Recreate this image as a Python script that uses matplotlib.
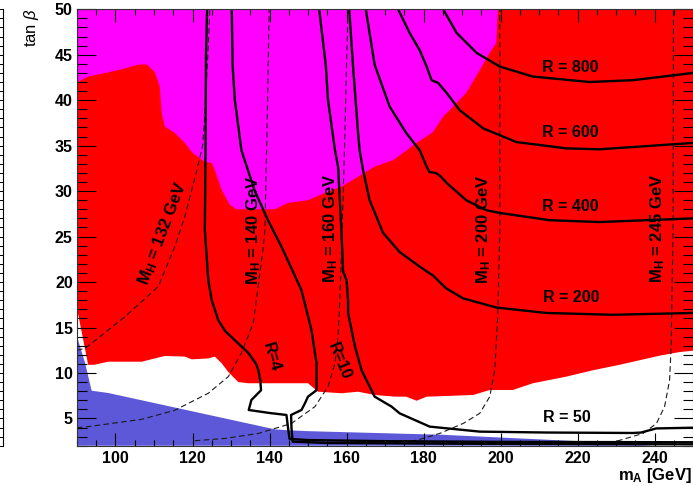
import matplotlib
matplotlib.use("Agg")
import matplotlib.pyplot as plt
from matplotlib.ticker import MultipleLocator

plt.rcParams.update({
    "font.family": ["Liberation Sans", "DejaVu Sans"],
    "mathtext.fontset": "custom",
    "mathtext.rm": "Liberation Sans",
    "mathtext.bf": "Liberation Sans:bold",
    "mathtext.it": "Liberation Sans:italic",
})

# ---- data (m_A [GeV], tan beta) ----
# magenta region: lower edge, left to right
magenta_m = [90, 90.2, 92.9, 100.7, 105.9, 108.1, 110.2, 111.5, 112.0, 112.8, 115.4, 118.0,
             119.8, 123.2, 125.0, 125.8, 127.6, 129.7, 131.4, 141.4, 144.8, 150.0, 154.4,
             158.7, 164.7, 167.3, 172.1, 178.2, 182.5, 185.1, 187.7, 191.1, 194.6, 197.2,
             198.9, 199.3, 199.4]
magenta_tb = [42.0, 42.0, 42.6, 43.3, 43.9, 43.95, 43.1, 41.5, 38.6, 37.1, 36.4, 35.3,
              34.3, 33.2, 33.1, 32.3, 30.1, 28.5, 28.0, 28.0, 28.7, 29.0, 29.8,
              30.5, 32.0, 32.7, 33.4, 35.3, 36.5, 38.2, 39.3, 40.8, 43.3, 45.2,
              46.3, 49.9, 50]

# red region: lower edge, left to right
red_m = [90, 92.9, 94.5, 98.1, 106.8, 110.2, 112.8, 118.0, 119.8, 124.1, 125.8, 127.6,
         129.3, 131.9, 134.5, 150.0, 152.6, 158.7, 163.0, 167.3, 172.5, 175.5, 178.2,
         180.8, 192.9, 197.2, 203.2, 208.4, 217.1, 224.0, 230.9, 236.1, 241.3, 246.5, 250]
red_tb = [17.1, 10.9, 10.9, 11.24, 11.24, 11.6, 11.87, 11.8, 11.5, 11.6, 11.8, 11.06,
          10.1, 9.0, 8.87, 8.87, 7.94, 7.77, 7.94, 7.58, 7.4, 7.39, 6.95,
          7.39, 7.58, 8.13, 8.13, 8.87, 9.6, 10.3, 10.9, 11.4, 11.9, 12.3, 12.45]

# blue region outline
blue_m = [90, 90, 92.1, 93.8, 98.1, 141.4, 144.8, 150.0, 185.0, 220.0, 232.0, 240.0]
blue_tb = [2, 14.0, 11.1, 8.05, 7.8, 3.8, 3.7, 3.6, 3.2, 2.5, 2.2, 2.0]

# solid R contours
r4_m = [123.8, 123.5, 123.4, 123.2, 124.1, 125.0, 126.7, 128.5, 131.0, 134.5, 136.5,
        137.1, 137.6, 137.8, 135.3, 134.6, 140.0, 144.4, 144.8, 145.2, 150, 170, 200, 250]
r4_tb = [50, 45, 35, 25.7, 20.2, 18.0, 15.8, 14.6, 13.6, 12.2, 11.0,
         10.3, 9.2, 8.1, 7.03, 5.93, 5.6, 5.38, 4.0, 2.75, 2.62, 2.5, 2.42, 2.38]

r10_m = [130.2, 130.4, 131.0, 132.7, 136.1, 139.6, 143.1, 148.3, 150.9, 152.2, 152.2,
         150.0, 149.2, 148.3, 145.6, 145.7, 146.0, 155, 200, 250]
r10_tb = [50, 43.9, 40.0, 34.5, 30.1, 26.8, 23.9, 19.1, 14.7, 11.1, 8.1,
          7.4, 6.67, 5.93, 5.38, 4.0, 2.45, 2.3, 2.2, 2.15]

r50_m = [152.9, 154.6, 155.2, 157.0, 157.8, 158.7, 159.1, 160.0, 160.4, 160.4, 162.2,
         163.9, 167.3, 171.7, 173.8, 181.6, 194.6, 211.9, 234.4, 236.5, 240.4, 250]
r50_tb = [50, 43.9, 40.0, 34.5, 32.7, 25.4, 21.2, 20.2, 18.0, 16.6, 12.9,
          10.3, 7.4, 6.3, 5.56, 4.1, 3.55, 3.45, 3.4, 3.45, 3.9, 3.98]

r200_m = [160.7, 161.7, 163.0, 163.4, 164.3, 166.0, 169.5, 173.8, 179.0, 182.5, 185.9,
          190.3, 198.9, 211.9, 229.2, 250]
r200_tb = [50, 43.7, 36.4, 34.5, 32.3, 29.0, 25.4, 23.3, 21.7, 20.7, 19.3,
           18.2, 17.2, 16.6, 16.4, 16.6]

r400_m = [165.0, 167.3, 171.2, 175.5, 179.0, 180.8, 181.5, 183.2, 184.5, 186.0, 191.1,
          196.3, 199.8, 212.8, 225.7, 250]
r400_tb = [50, 43.9, 39.3, 36.4, 34.5, 32.7, 32.1, 32.0, 31.6, 30.9, 29.0,
           27.9, 27.6, 26.8, 26.6, 27.0]

r600_m = [173.4, 176.4, 179.0, 180.8, 182.1, 183.8, 186.0, 189.4, 195.5, 204.1, 217.1,
          225.7, 250]
r600_tb = [50, 47.4, 45.5, 43.7, 42.2, 41.9, 40.8, 38.9, 36.9, 35.4, 34.7,
           34.6, 35.3]

r800_m = [185.1, 188.6, 193.8, 199.8, 208.4, 223.1, 234.4, 250]
r800_tb = [50, 47.4, 45.2, 43.7, 42.6, 42.0, 42.2, 43.0]

# dashed M_H contours
mh132_m = [90, 92.1, 102.5, 111.1, 115.4, 118.0, 120.7, 122.6, 123.2, 123.6, 124.0, 124.5]
mh132_tb = [12.5, 12.7, 16.2, 19.5, 23.9, 27.2, 31.6, 34.9, 38.4, 42, 45, 50]

mh140_m = [90, 92.1, 98.1, 106.8, 115.4, 124.1, 129.3, 132.7, 135.8, 137.5, 138.4,
           138.8, 139.5, 139.9]
mh140_tb = [4.0, 4.05, 4.4, 4.9, 5.9, 7.77, 9.6, 12.2, 15.5, 21.0, 23.9,
            25.7, 40, 50]

mh160_m = [120.6, 128.4, 137.1, 145.7, 151.8, 155.2, 157.0, 157.8, 158.3, 158.8, 159.5,
           160.0, 160.4]
mh160_tb = [2.55, 2.8, 3.35, 4.45, 6.3, 8.5, 11.1, 14.0, 18.4, 25, 35, 44, 50]

mh200_m = [172, 178.2, 184.2, 190.3, 194.6, 197.2, 198.5, 199.3, 199.8, 199.8]
mh200_tb = [2.3, 2.6, 3.35, 4.45, 5.56, 7.4, 10.3, 16.6, 25.7, 50]

mh245_m = [228, 231.0, 237.0, 240.5, 242.6, 243.9, 244.3, 244.8, 244.9]
mh245_tb = [2.3, 2.6, 3.35, 4.45, 6.3, 9.2, 12.9, 25.7, 50]

R_LINES = [(r4_m, r4_tb), (r10_m, r10_tb), (r50_m, r50_tb), (r200_m, r200_tb),
           (r400_m, r400_tb), (r600_m, r600_tb), (r800_m, r800_tb)]
MH_LINES = [(mh132_m, mh132_tb), (mh140_m, mh140_tb), (mh160_m, mh160_tb),
            (mh200_m, mh200_tb), (mh245_m, mh245_tb)]

# R labels: text, m_A, tan beta, rotation
r_labels = [("R = 800", 218.2, 43.65, 0), ("R = 600", 218.2, 36.4, 0),
            ("R = 400", 218.2, 28.3, 0), ("R = 200", 218.3, 18.25, 0),
            ("R = 50", 217.2, 5.1, 0), ("R=4", 140.5, 11.75, -74),
            ("R=10", 158.0, 11.3, -68)]
mh_labels = [("132", 112.4, 25.3, 69), ("140", 135.8, 25.7, 90), ("160", 155.9, 25.9, 90),
             ("200", 195.5, 25.8, 90), ("245", 240.7, 25.9, 90)]

X_LIM = (90, 250)
Y_LIM = (2, 50)

MAGENTA = "#ff00ff"
RED = "#ff0000"
BLUE = "#5c58d8"

fig = plt.figure(figsize=(6.93, 4.86), dpi=100)
ax = fig.add_axes([0.1111, 0.0829, 0.889, 0.8980])

ax.fill(red_m + [250, 90], red_tb + [50, 50], color=RED, lw=0, zorder=1)
ax.fill(magenta_m + [90], magenta_tb + [50], color=MAGENTA, lw=0, zorder=1.1)
ax.fill(blue_m, blue_tb, color=BLUE, lw=0, zorder=1.2)

for m, tb in MH_LINES:
    ax.plot(m, tb, color="#1a1a1a", lw=0.8, dashes=(5, 3), zorder=2)
for m, tb in R_LINES:
    ax.plot(m, tb, color="black", lw=1.7, zorder=2.2, solid_joinstyle="round")

for txt, m, tb, rot in r_labels:
    ax.text(m, tb, txt, fontsize=11.5, fontweight="bold", ha="center", va="center",
            rotation=rot, rotation_mode="anchor", zorder=3)
for val, m, tb, rot in mh_labels:
    ax.text(m, tb, r"M$_\mathbf{H}$ = " + val + " GeV", fontsize=12, fontweight="bold",
            ha="center", va="center", rotation=rot, rotation_mode="anchor", zorder=3)

ax.set_xlim(*X_LIM)
ax.set_ylim(*Y_LIM)
ax.xaxis.set_major_locator(MultipleLocator(20))
ax.xaxis.set_minor_locator(MultipleLocator(5))
ax.yaxis.set_major_locator(MultipleLocator(5))
ax.yaxis.set_minor_locator(MultipleLocator(1))
ax.tick_params(which="both", direction="in", top=True, right=True, width=0.8,
               labelsize=11.5)
ax.tick_params(axis="y", which="major", length=14, pad=3)
ax.tick_params(axis="y", which="minor", length=7)
ax.tick_params(axis="x", which="major", length=9.6, pad=4)
ax.tick_params(axis="x", which="minor", length=4.5)
ax.set_yticks([5, 10, 15, 20, 25, 30, 35, 40, 45, 50])
ax.set_xticks([100, 120, 140, 160, 180, 200, 220, 240])
for lab in ax.get_xticklabels() + ax.get_yticklabels():
    lab.set_fontweight("bold")
for s in ax.spines.values():
    s.set_linewidth(0.8)
    s.set_color("#333333")

fig.text(0.999, 0.013, r"m$_\mathbf{A}$ [GeV]", fontsize=12, fontweight="bold",
         ha="right", va="baseline")
fig.text(0.046, 0.983, r"tan $\beta$", fontsize=12, rotation=90, ha="center", va="top")

# fragment of a neighbouring panel at the left border
frag = fig.add_axes([-0.02, 0.0829, 0.025, 0.8980])
frag.set_ylim(*Y_LIM)
frag.set_xticks([])
frag.yaxis.set_major_locator(MultipleLocator(5))
frag.yaxis.set_minor_locator(MultipleLocator(1))
frag.yaxis.tick_right()
frag.tick_params(axis="y", which="both", direction="in", labelright=False, width=0.7)
frag.tick_params(axis="y", which="major", length=6)
frag.tick_params(axis="y", which="minor", length=3)
for side in ("left", "top", "bottom"):
    frag.spines[side].set_visible(False)
frag.patch.set_alpha(0)

fig.savefig("out.png", dpi=100)
